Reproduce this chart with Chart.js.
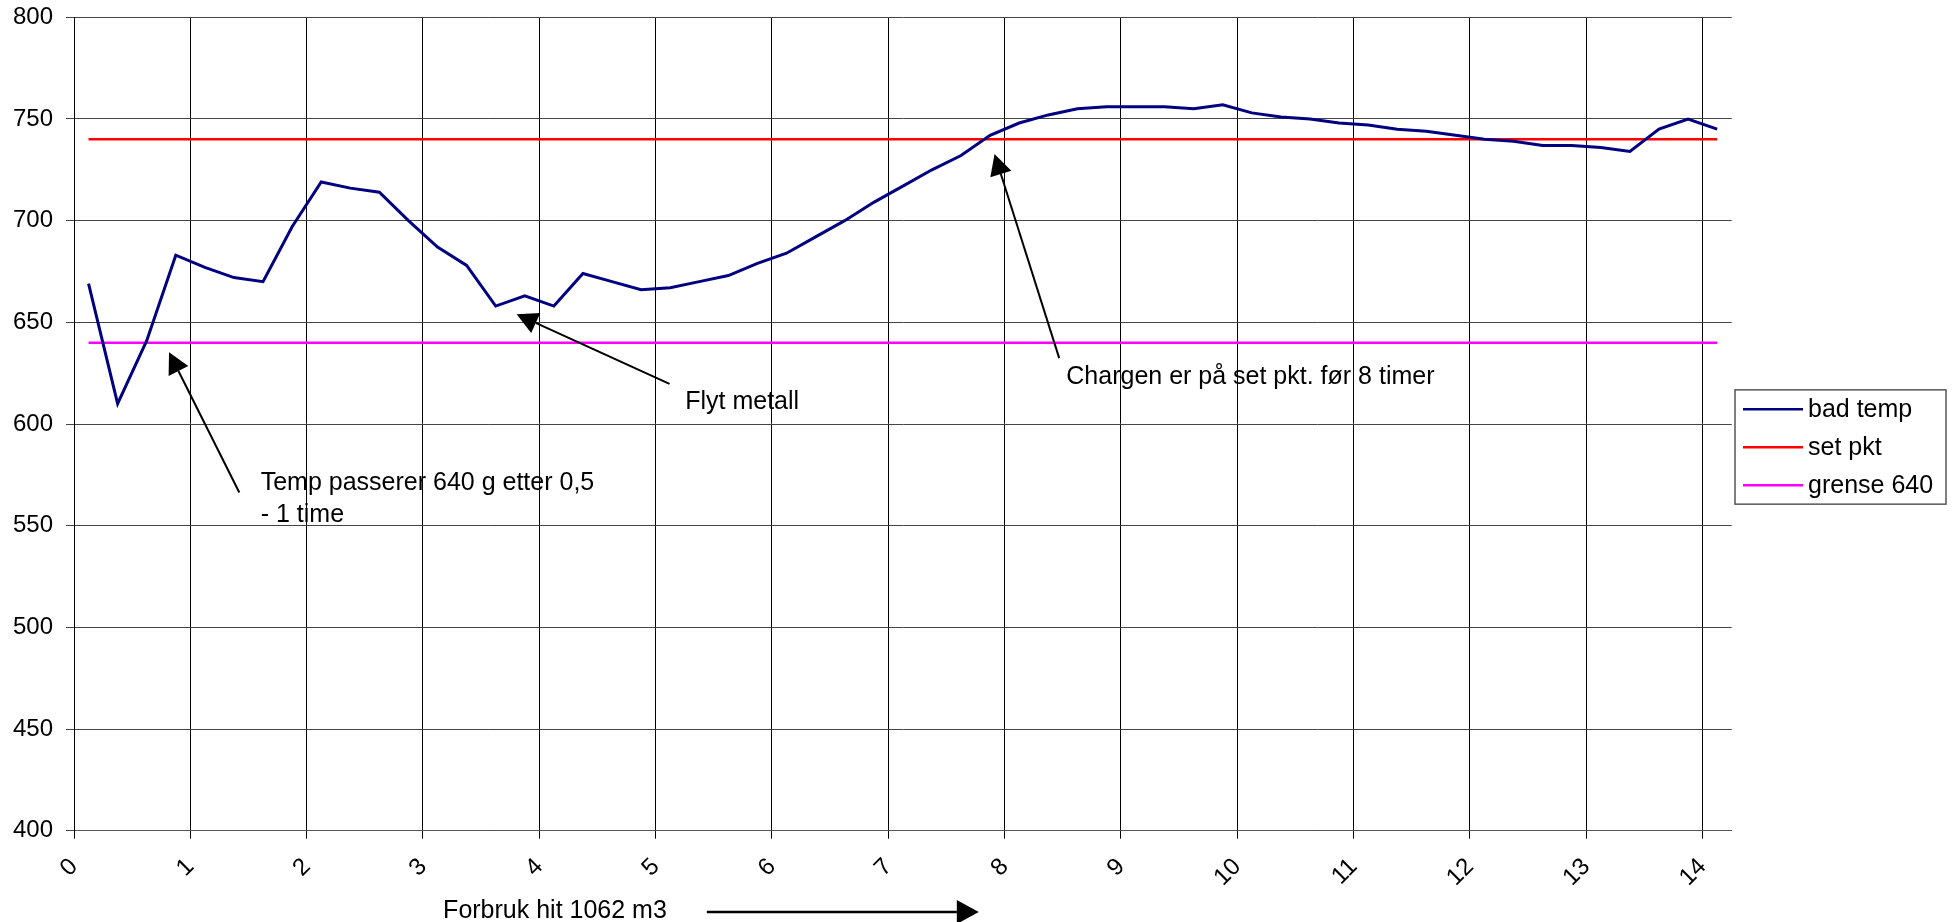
<!DOCTYPE html>
<html>
<head>
<meta charset="utf-8">
<script src="https://cdn.jsdelivr.net/npm/chart.js@4.4.1/dist/chart.umd.min.js"></script>
<style>
  html, body { margin: 0; padding: 0; background: #fff; overflow: hidden; }
  #wrap { width: 1957px; height: 922px; }
</style>
</head>
<body>
<div id="wrap"><canvas id="c" width="1957" height="922"></canvas></div>
<script>
// Hours since start (one reading every quarter hour)
const hours = [
  0.125, 0.375, 0.625, 0.875, 1.125, 1.375, 1.625, 1.875, 2.125, 2.375,
  2.625, 2.875, 3.125, 3.375, 3.625, 3.875, 4.125, 4.375, 4.625, 4.875,
  5.125, 5.375, 5.625, 5.875, 6.125, 6.375, 6.625, 6.875, 7.125, 7.375,
  7.625, 7.875, 8.125, 8.375, 8.625, 8.875, 9.125, 9.375, 9.625, 9.875,
  10.125, 10.375, 10.625, 10.875, 11.125, 11.375, 11.625, 11.875, 12.125, 12.375,
  12.625, 12.875, 13.125, 13.375, 13.625, 13.875, 14.125
];

// Bath temperature readings
const badTemp = [
  669, 610, 641, 683, 677, 672, 670, 697, 719, 716,
  714, 700, 687, 678, 658, 663, 658, 674, 670, 666,
  667, 670, 673, 679, 684, 692, 700, 709, 717, 725,
  732, 742, 748, 752, 755, 756, 756, 756, 755, 757,
  753, 751, 750, 748, 747, 745, 744, 742, 740, 739,
  737, 737, 736, 734, 745, 750, 745
];

const setPkt = 740;      // set point
const grense = 640;      // lower limit

const seriesNames = ['bad temp', 'set pkt', 'grense 640'];
const seriesColors = ['#000080', '#ff0000', '#ff00ff'];

const xRange = [0, 14.25];
const yRange = [400, 800];
const yStep = 50;

// Callout texts (left edge / first baseline in data units)
const notes = [
  { lines: ['Temp passerer 640 g etter 0,5', '- 1 time'], x: 1.605, y: 567.6 },
  { lines: ['Flyt metall'], x: 5.254, y: 607.3 },
  { lines: ['Chargen er på set pkt. før 8 timer'], x: 8.530, y: 619.6 }
];
// Callout arrows: tail -> tip, in data units
const pointers = [
  { from: [1.421, 566.3], to: [0.817, 635.3] },
  { from: [5.119, 619.7], to: [3.805, 654.0] },
  { from: [8.469, 632.4], to: [7.913, 732.8] }
];
// Note under the x axis
const footNote = { text: 'Forbruk hit 1062 m3', x: 3.173, arrowFrom: 5.44, arrowTo: 7.778 };

const FONT = '"Liberation Sans", Arial, Helvetica, sans-serif';
Chart.defaults.font.family = FONT;
Chart.defaults.color = '#000';

function toXY(xs, ys) { return xs.map((x, i) => ({ x: x, y: ys[i] })); }
const first = hours[0], last = hours[hours.length - 1];

function drawArrow(ctx, x1, y1, x2, y2, width, headLen, headHalf) {
  const ang = Math.atan2(y2 - y1, x2 - x1);
  const bx = x2 - headLen * Math.cos(ang), by = y2 - headLen * Math.sin(ang);
  ctx.save();
  ctx.strokeStyle = '#000';
  ctx.fillStyle = '#000';
  ctx.lineWidth = width;
  ctx.beginPath();
  ctx.moveTo(x1, y1);
  ctx.lineTo(bx, by);
  ctx.stroke();
  ctx.beginPath();
  ctx.moveTo(x2, y2);
  ctx.lineTo(bx + headHalf * Math.sin(ang), by - headHalf * Math.cos(ang));
  ctx.lineTo(bx - headHalf * Math.sin(ang), by + headHalf * Math.cos(ang));
  ctx.closePath();
  ctx.fill();
  ctx.restore();
}

const calloutPlugin = {
  id: 'callouts',
  afterDatasetsDraw(chart) {
    const ctx = chart.ctx, xs = chart.scales.x, ys = chart.scales.y;
    ctx.save();
    ctx.font = '25px ' + FONT;
    ctx.fillStyle = '#000';
    ctx.textAlign = 'left';
    ctx.textBaseline = 'alphabetic';
    notes.forEach(n => {
      const px = xs.getPixelForValue(n.x), py = ys.getPixelForValue(n.y);
      n.lines.forEach((t, i) => ctx.fillText(t, px, py + i * 31.7));
    });
    pointers.forEach(p => {
      drawArrow(ctx,
        xs.getPixelForValue(p.from[0]), ys.getPixelForValue(p.from[1]),
        xs.getPixelForValue(p.to[0]), ys.getPixelForValue(p.to[1]),
        2, 21, 11);
    });
    // note below the axis labels
    const h = chart.height;
    ctx.fillText(footNote.text, xs.getPixelForValue(footNote.x), h - 4);
    drawArrow(ctx, xs.getPixelForValue(footNote.arrowFrom), h - 10,
      xs.getPixelForValue(footNote.arrowTo), h - 10, 2.5, 22, 12);
    ctx.restore();
  }
};

const legendPlugin = {
  id: 'boxLegend',
  afterDraw(chart) {
    const ctx = chart.ctx, ca = chart.chartArea;
    const w = 211, rowH = 38, h = 114.3;
    const left = ca.right + 3.3;
    const top = (ca.top + ca.bottom) / 2 + 23 - h / 2;
    ctx.save();
    ctx.fillStyle = '#fff';
    ctx.fillRect(left, top, w, h);
    ctx.strokeStyle = '#555';
    ctx.lineWidth = 1.5;
    ctx.strokeRect(left, top, w, h);
    ctx.font = '25px ' + FONT;
    ctx.textBaseline = 'middle';
    ctx.textAlign = 'left';
    chart.data.datasets.forEach((ds, i) => {
      const y = top + 19.3 + i * rowH;
      ctx.strokeStyle = ds.borderColor;
      ctx.lineWidth = 2.5;
      ctx.beginPath();
      ctx.moveTo(left + 8, y);
      ctx.lineTo(left + 68, y);
      ctx.stroke();
      ctx.fillStyle = '#000';
      ctx.fillText(ds.label, left + 73, y + 1);
    });
    ctx.restore();
  }
};

new Chart(document.getElementById('c'), {
  type: 'line',
  data: {
    datasets: [
      { label: seriesNames[0], data: toXY(hours, badTemp), borderColor: seriesColors[0], borderWidth: 3 },
      { label: seriesNames[1], data: [{ x: first, y: setPkt }, { x: last, y: setPkt }], borderColor: seriesColors[1], borderWidth: 2.5 },
      { label: seriesNames[2], data: [{ x: first, y: grense }, { x: last, y: grense }], borderColor: seriesColors[2], borderWidth: 2.5 }
    ]
  },
  options: {
    responsive: false,
    animation: false,
    devicePixelRatio: 1,
    layout: { padding: { top: 17.3, right: 225.3, left: 0, bottom: 0 } },
    elements: { point: { radius: 0 }, line: { tension: 0, fill: false } },
    plugins: { legend: { display: false }, tooltip: { enabled: false } },
    scales: {
      x: {
        type: 'linear',
        min: xRange[0], max: xRange[1],
        grid: { color: '#000', lineWidth: 1, tickLength: 8 },
        border: { color: '#555', width: 1 },
        ticks: { stepSize: 1, includeBounds: false, minRotation: 45, maxRotation: 45,
                 font: { size: 24 }, color: '#000', padding: 14 },
        afterFit(s) { s.height = 91.3; }
      },
      y: {
        min: yRange[0], max: yRange[1],
        grid: { color: '#444', lineWidth: 1, tickLength: 8 },
        border: { color: '#000', width: 1 },
        ticks: { stepSize: yStep, font: { size: 24 }, color: '#000', padding: 13 },
        afterFit(s) { s.width = 74; s.paddingTop = 0; s.paddingBottom = 0; }
      }
    }
  },
  plugins: [calloutPlugin, legendPlugin]
});
</script>
</body>
</html>
